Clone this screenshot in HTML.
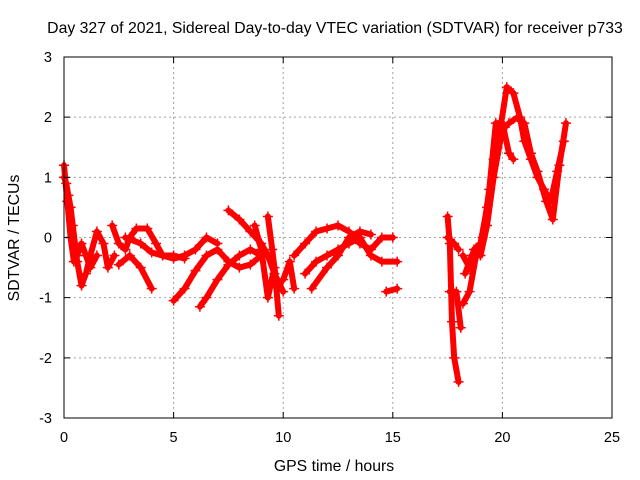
<!DOCTYPE html>
<html><head><meta charset="utf-8">
<style>
html,body{margin:0;padding:0;background:#fff;}
svg{display:block;font-family:"Liberation Sans",sans-serif;}
</style></head>
<body>
<svg id="chart" width="640" height="480" viewBox="0 0 640 480">
<rect width="640" height="480" fill="#fff"/>
<text x="335" y="33" text-anchor="middle" font-size="15.8" fill="#000">Day 327 of 2021, Sidereal Day-to-day VTEC variation (SDTVAR) for receiver p733</text>
<g id="grid"></g>
<g id="series"></g>
<rect x="64" y="57" width="548" height="361" fill="none" stroke="#000" stroke-width="1"/>
<g id="axes"></g>
<text x="334" y="471" text-anchor="middle" font-size="15.8">GPS time / hours</text>
<text transform="translate(19,238) rotate(-90)" text-anchor="middle" font-size="15.8">SDTVAR / TECUs</text>
</svg>
<script>
const xTicks = [0, 5, 10, 15, 20, 25];
const yTicks = [-3, -2, -1, 0, 1, 2, 3];
const track1 = [[0,1.0],[0.1,0.9],[0.2,0.7],[0.3,0.5],[0.4,0.2],[0.5,-0.1],[0.6,-0.4],[0.8,-0.8],[1.0,-0.6],[1.2,-0.3],[1.5,0.1],[1.8,-0.1],[2.0,-0.5],[2.3,-0.3]];
const track2 = [[0,1.2],[0.15,0.6],[0.3,0.0],[0.45,-0.4],[0.6,-0.3],[0.8,-0.1],[1.0,-0.3],[1.2,-0.5],[1.5,-0.3]];
const track3 = [[2.2,0.2],[2.5,-0.1],[2.8,-0.2],[3.0,0.0],[3.3,0.15],[3.8,0.15],[4.2,-0.1],[4.5,-0.3],[5,-0.35],[5.5,-0.3],[6,-0.2],[6.5,0.0],[7,-0.1]];
const track4 = [[2.5,-0.45],[3,-0.3],[3.5,-0.5],[4,-0.85]];
const track5 = [[2.8,0.0],[3.5,-0.1],[4,-0.25],[4.5,-0.3],[5,-0.3],[5.5,-0.35]];
const track6 = [[5,-1.05],[5.5,-0.85],[6,-0.55],[6.5,-0.3],[7,-0.2],[7.5,-0.4],[8,-0.5],[8.5,-0.45],[9,-0.3]];
const track7 = [[6.2,-1.15],[6.5,-1.0],[7,-0.7],[7.5,-0.45],[8,-0.3],[8.5,-0.2],[9,-0.3]];
const track8 = [[7.5,0.45],[8,0.3],[8.5,0.1],[9,-0.1],[9.3,-0.3],[9.6,-0.6],[10,-0.9]];
const track9 = [[8.7,0.2],[9,-0.2],[9.3,-1.0],[9.6,-0.5],[9.8,-1.3]];
const track10 = [[9.3,0.35],[9.5,-0.2],[9.7,-0.8],[10,-0.7],[10.3,-0.4],[10.5,-0.85]];
const track11 = [[10.5,-0.3],[11,-0.1],[11.5,0.1],[12,0.15],[12.5,0.2],[13,0.1],[13.5,-0.1],[14,-0.2],[14.5,0.0],[15,0.0]];
const track12 = [[11,-0.6],[11.5,-0.4],[12,-0.3],[12.5,-0.2],[13,-0.1],[13.5,0.0],[14,-0.3],[14.5,-0.4],[15.2,-0.4]];
const track13 = [[11.3,-0.85],[12,-0.5],[12.5,-0.3],[13,0.0],[13.5,0.1],[14,0.05]];
const track14 = [[14.7,-0.9],[15.2,-0.85]];
const track15 = [[17.5,0.35],[17.6,-0.1],[17.7,-1.4],[17.8,-2.0],[18,-2.4]];
const track16 = [[17.6,-0.9],[17.9,-0.9],[18.1,-1.5]];
const track17 = [[17.5,0.0],[17.8,-0.1],[18.0,-0.2]];
const track18 = [[18.2,-0.3],[18.5,-0.5],[18.7,-0.2],[19,-0.1],[19.3,0.5],[19.6,1.3],[19.9,1.8],[20.2,2.5],[20.5,2.4],[20.8,2.0],[21,1.6],[21.3,1.3],[21.6,1.0],[21.9,0.8],[22.2,0.6],[22.5,1.1],[22.8,1.6]];
const track19 = [[18.3,-0.6],[18.6,-0.3],[19,-0.3],[19.3,0.2],[19.6,1.0],[20,1.8],[20.3,1.9],[20.7,2.0],[21,1.9],[21.3,1.4],[21.6,1.1],[22,0.6],[22.3,0.3],[22.6,1.2],[22.9,1.9]];
const track20 = [[18.2,-1.1],[18.5,-0.9],[18.8,-0.3],[19.1,0.0],[19.4,0.8],[19.7,1.9],[20,1.9],[20.3,1.4],[20.5,1.3]];
const tracks = [track1,track2,track3,track4,track5,track6,track7,track8,track9,track10,track11,track12,track13,track14,track15,track16,track17,track18,track19,track20];

const NS = 'http://www.w3.org/2000/svg';
const X0 = 64, X1 = 612, Y0 = 418, Y1 = 57;
function xs(v){ return X0 + (v - 0) / 25 * (X1 - X0); }
function ys(v){ return Y0 - (v + 3) / 6 * (Y0 - Y1); }
const grid = document.getElementById('grid');
const axes = document.getElementById('axes');
const series = document.getElementById('series');

xTicks.forEach(t => {
  const x = xs(t);
  if (t > 0 && t < 25) {
    const g = document.createElementNS(NS, 'line');
    
    
    g.setAttribute('x1', x); g.setAttribute('x2', x); g.setAttribute('y1', Y1); g.setAttribute('y2', Y0);
    g.setAttribute('stroke', '#a0a0a0'); g.setAttribute('stroke-dasharray', '2,3');
    grid.appendChild(g);
  }
  const tk = document.createElementNS(NS, 'path');
  
  
  tk.setAttribute('d', `M${x},${Y0}v-6M${x},${Y1}v6`);
  tk.setAttribute('stroke', '#000');
  axes.appendChild(tk);
  const lb = document.createElementNS(NS, 'text');
  
  
  lb.setAttribute('x', x); lb.setAttribute('y', 442);
  lb.setAttribute('text-anchor', 'middle'); lb.setAttribute('font-size', '14.5');
  lb.textContent = t;
  axes.appendChild(lb);
});
yTicks.forEach(t => {
  const y = ys(t);
  if (t > -3 && t < 3) {
    const g = document.createElementNS(NS, 'line');
    
    
    g.setAttribute('x1', X0); g.setAttribute('x2', X1); g.setAttribute('y1', y); g.setAttribute('y2', y);
    g.setAttribute('stroke', '#a0a0a0'); g.setAttribute('stroke-dasharray', '2,3');
    grid.appendChild(g);
  }
  const tk = document.createElementNS(NS, 'path');
  
  
  tk.setAttribute('d', `M${X0},${y}h6M${X1},${y}h-6`);
  tk.setAttribute('stroke', '#000');
  axes.appendChild(tk);
  const lb = document.createElementNS(NS, 'text');
  
  
  lb.setAttribute('x', 52); lb.setAttribute('y', y + 5);
  lb.setAttribute('text-anchor', 'end'); lb.setAttribute('font-size', '14.5');
  lb.textContent = t;
  axes.appendChild(lb);
});
tracks.forEach(tr => {
  const pl = document.createElementNS(NS, 'polyline');
  
  
  pl.setAttribute('points', tr.map(p => xs(p[0]) + ',' + ys(p[1])).join(' '));
  pl.setAttribute('fill', 'none'); pl.setAttribute('stroke', '#ff0000');
  pl.setAttribute('stroke-width', '6'); pl.setAttribute('stroke-linejoin', 'round'); pl.setAttribute('stroke-linecap', 'round');
  series.appendChild(pl);
  tr.forEach(p => {
    const m = document.createElementNS(NS, 'path');
    
    
    const x = xs(p[0]), y = ys(p[1]);
    m.setAttribute('d', `M${x-5},${y}h10M${x},${y-5}v10`);
    m.setAttribute('stroke', '#ff0000'); m.setAttribute('stroke-width', '1.5');
    series.appendChild(m);
  });
});
</script>
</body></html>
